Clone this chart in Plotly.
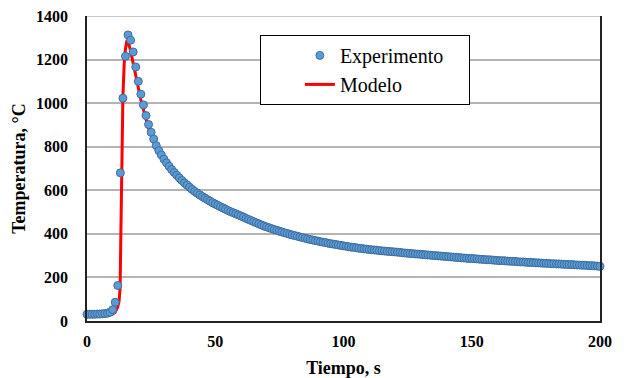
import plotly.graph_objects as go

# Experimental data (1 s sampling)
exp_time = list(range(0, 201))
exp_temp = [
    31, 31, 31, 31, 32, 32, 33, 34, 36, 40,
    52, 86, 163, 680, 1023, 1215, 1313, 1289, 1235, 1166,
    1100, 1041, 992, 943, 902, 866, 835, 805, 782, 762,
    743, 726, 710, 695, 682, 669, 657, 645, 634, 624,
    614, 604, 595, 587, 579, 571, 564, 557, 550, 543,
    537, 531, 525, 519, 513, 507, 502, 497, 492, 487,
    482, 477, 471, 466, 461, 456, 451, 446, 441, 436,
    432, 428, 424, 420, 416, 412, 409, 405, 402, 398,
    395, 392, 389, 386, 383, 380, 377, 374, 372, 369,
    367, 364, 362, 360, 357, 355, 353, 351, 349, 347,
    345, 343, 341, 339, 338, 336, 334, 333, 331, 330,
    328, 327, 326, 325, 323, 322, 321, 320, 319, 318,
    317, 316, 315, 313, 312, 311, 310, 309, 308, 307,
    306, 305, 304, 303, 302, 301, 300, 299, 298, 297,
    296, 295, 294, 293, 292, 291, 290, 289, 288, 287,
    287, 286, 285, 284, 283, 282, 281, 281, 280, 279,
    278, 277, 277, 276, 275, 274, 274, 273, 272, 271,
    271, 270, 269, 269, 268, 267, 267, 266, 265, 265,
    264, 263, 263, 262, 262, 261, 260, 260, 259, 259,
    258, 257, 257, 256, 256, 255, 254, 254, 253, 252,
    251,
]

# Model curve
model_time = [0, 8, 10, 11, 11.5, 12, 12.5, 12.9, 13.2, 13.5, 14, 14.5, 15, 15.6,
              16, 17, 18, 19, 20, 21, 22, 23, 24, 25, 26, 27, 28, 29, 30,
              32, 34, 36, 38, 40, 42, 44, 46, 48, 50, 55, 60, 65, 70, 80, 90,
              100, 120, 140, 160, 180, 200]
model_temp = [30, 31, 32, 40, 50, 65, 90, 150, 400, 690, 1030, 1180, 1250, 1290,
              1285, 1240, 1180, 1120, 1070, 1015, 970, 925, 885, 850, 818, 790, 765, 745, 727,
              694, 666, 641, 619, 599, 580, 564, 550, 536, 523, 495, 472, 452, 431, 394, 367,
              345, 317, 296, 278, 264, 251]

x_ticks = [0, 50, 100, 150, 200]
y_ticks = [0, 200, 400, 600, 800, 1000, 1200, 1400]

FONT = "Liberation Serif"
PAD = "\u00a0" * 4
GRID = "#B4B4B4"

fig = go.Figure()
fig.add_trace(go.Scatter(
    x=model_time, y=model_temp, mode="lines", name="Modelo",
    line=dict(color="#FF0000", width=3), legendrank=2, cliponaxis=False,
))
fig.add_trace(go.Scatter(
    x=exp_time, y=exp_temp, mode="markers", name="Experimento" + PAD,
    marker=dict(size=8, color="#5B9BD5", line=dict(color="#3F6FA0", width=1)),
    legendrank=1, cliponaxis=False,
))

# top gridline at the upper end of the y range (plotly drops the edge gridline)
fig.add_shape(type="line", xref="paper", yref="y", x0=0, x1=1,
              y0=y_ticks[-1], y1=y_ticks[-1], line=dict(color=GRID, width=1.5),
              layer="below")

fig.update_layout(
    width=629, height=378,
    margin=dict(l=87, r=29, t=16, b=57),
    paper_bgcolor="white", plot_bgcolor="white",
    font=dict(family=FONT, color="black"),
    showlegend=True,
    legend=dict(
        x=0.337, y=0.938, xanchor="left", yanchor="top",
        bordercolor="black", borderwidth=1, bgcolor="white",
        font=dict(family=FONT, size=20, color="black"),
        tracegroupgap=0, itemwidth=30, indentation=39,
    ),
    xaxis=dict(
        range=[0, 200], tickvals=x_ticks, automargin=False,
        showgrid=False, zeroline=False,
        showline=True, linecolor="#222222", linewidth=1.5, mirror=False,
        ticks="outside", ticklen=5, tickcolor="rgba(0,0,0,0)",
        tickfont=dict(family=FONT, size=16, color="black", weight="bold"),
        title=dict(text="Tiempo, s", standoff=12,
                   font=dict(family=FONT, size=18, color="black", weight="bold")),
    ),
    yaxis=dict(
        range=[0, 1400], tickvals=y_ticks, automargin=False,
        showgrid=True, gridcolor=GRID, gridwidth=1.5, zeroline=False,
        showline=True, linecolor="#222222", linewidth=1.5, mirror=True,
        ticks="outside", ticklen=14, tickcolor="rgba(0,0,0,0)",
        tickfont=dict(family=FONT, size=16, color="black", weight="bold"),
        title=dict(text="Temperatura, °C", standoff=6,
                   font=dict(family=FONT, size=18, color="black", weight="bold")),
    ),
)

# remove the browser's default 8px page margin so the figure fills the window
fig.write_html("out.html", config={"displayModeBar": False},
               post_script="document.body.style.margin='0';")
